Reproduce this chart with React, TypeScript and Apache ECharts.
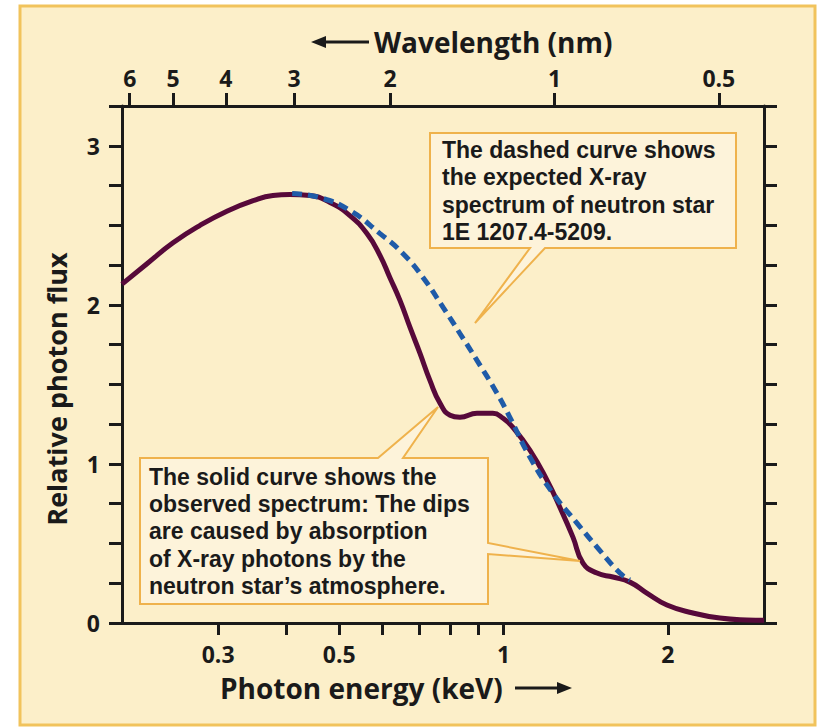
import React, { useEffect, useRef } from "react";
import * as echarts from "echarts";

// Photon energy (keV) / relative photon flux
const solidEnergy = [0.2, 0.2225, 0.248, 0.278, 0.312, 0.348, 0.378, 0.406, 0.442, 0.481, 0.523, 0.562, 0.594, 0.619, 0.646, 0.674, 0.703, 0.733, 0.765, 0.798, 0.832, 0.894, 0.956, 0.998, 1.04, 1.118, 1.201, 1.268, 1.34, 1.398, 1.483, 1.586, 1.704, 1.83, 1.992, 2.223, 2.49, 2.79, 3.0];
const solidFlux = [2.13, 2.26, 2.39, 2.5, 2.59, 2.655, 2.687, 2.693, 2.687, 2.643, 2.561, 2.448, 2.31, 2.172, 2.028, 1.858, 1.695, 1.525, 1.381, 1.306, 1.293, 1.318, 1.318, 1.287, 1.23, 1.086, 0.898, 0.728, 0.54, 0.377, 0.314, 0.289, 0.257, 0.188, 0.113, 0.063, 0.031, 0.019, 0.017];

const dashedEnergy = [0.41, 0.461, 0.523, 0.594, 0.654, 0.712, 0.775, 0.832, 0.894, 0.973, 1.027, 1.118, 1.231, 1.363, 1.483, 1.634, 1.704];
const dashedFlux = [2.7, 2.674, 2.593, 2.448, 2.323, 2.172, 1.984, 1.82, 1.651, 1.444, 1.293, 1.042, 0.816, 0.628, 0.477, 0.314, 0.27];

const energyMin = 0.2;
const energyMax = 3;
const energyTicks = [0.3, 0.4, 0.5, 0.6, 0.7, 0.8, 0.9, 1, 2];
const energyLabels = [0.3, 0.5, 1, 2];
const wavelengthTicks = [6, 5, 4, 3, 2, 1, 0.5];
const fluxLabels = [0, 1, 2, 3];
const fluxMax = 3.25;
const fluxStep = 0.25;

const HC = 1.23984; // keV * nm

const dashedNote = ["The dashed curve shows", "the expected X-ray", "spectrum of neutron star", "1E 1207.4-5209."];
const solidNote = ["The solid curve shows the", "observed spectrum: The dips", "are caused by absorption", "of X-ray photons by the", "neutron star\u2019s atmosphere."];

const FONT = '"Open Sans", "Noto Sans", sans-serif';
const NOTE_FONT = '"Liberation Sans", Arial, sans-serif';
const INK = "#1a1a1a";
const BG = "#fcefc9";
const BOX_FILL = "#fdf3da";
const BOX_LINE = "#efb24c";

const lg = (v: number) => Math.log10(v);

export default function App() {
  const ref = useRef<HTMLDivElement>(null);
  useEffect(() => {
    const chart = echarts.init(ref.current!, null, { renderer: "svg" });
    const axisLine = { show: true, onZero: false, lineStyle: { color: INK, width: 3 } };
    const tickStyle = { color: INK, width: 3 };
    const labelStyle = { color: INK, fontFamily: FONT, fontWeight: "bold" as const, fontSize: 23 };

    const noteLines = (lines: string[], x: number, y0: number, step: number) =>
      lines.map((t, i) => ({
        type: "text",
        z: 11,
        x,
        y: y0 + i * step,
        style: { text: t, font: `bold 23px ${NOTE_FONT}`, fill: INK, textVerticalAlign: "middle" },
      }));

    const option: any = {
      animation: false,
      backgroundColor: "transparent",
      grid: { left: 122, top: 106, width: 642, height: 517, containLabel: false },
      xAxis: [
        {
          type: "value",
          position: "bottom",
          min: lg(energyMin),
          max: lg(energyMax),
          axisLine,
          splitLine: { show: false },
          axisTick: { show: true, inside: false, length: 12, lineStyle: tickStyle, customValues: energyTicks.map(lg) },
          axisLabel: {
            ...labelStyle,
            margin: 19,
            customValues: energyLabels.map(lg),
            formatter: (v: number) => String(+Math.pow(10, v).toFixed(2)),
          },
        },
        {
          type: "value",
          position: "top",
          min: lg(energyMin),
          max: lg(energyMax),
          axisLine,
          splitLine: { show: false },
          axisTick: { show: true, inside: false, length: 13, lineStyle: tickStyle, customValues: wavelengthTicks.map((w) => lg(HC / w)) },
          axisLabel: {
            ...labelStyle,
            margin: 17,
            customValues: wavelengthTicks.map((w) => lg(HC / w)),
            formatter: (v: number) => String(+(HC / Math.pow(10, v)).toFixed(2)),
          },
        },
      ],
      yAxis: [
        {
          type: "value",
          position: "left",
          min: 0,
          max: fluxMax,
          interval: fluxStep,
          axisLine,
          splitLine: { show: false },
          axisTick: { show: true, inside: false, length: 13, lineStyle: tickStyle },
          axisLabel: { ...labelStyle, margin: 22, customValues: fluxLabels },
        },
        {
          type: "value",
          position: "right",
          min: 0,
          max: fluxMax,
          interval: fluxStep,
          axisLine,
          splitLine: { show: false },
          axisTick: { show: true, inside: false, length: 13, lineStyle: tickStyle },
          axisLabel: { show: false },
        },
      ],
      series: [
        {
          type: "line",
          name: "observed",
          xAxisIndex: 0,
          yAxisIndex: 0,
          data: solidEnergy.map((e, i) => [lg(e), solidFlux[i]]),
          showSymbol: false,
          smooth: 0.5,
          lineStyle: { color: "#57093a", width: 5 },
          z: 3,
        },
        {
          type: "line",
          name: "expected",
          xAxisIndex: 0,
          yAxisIndex: 0,
          data: dashedEnergy.map((e, i) => [lg(e), dashedFlux[i]]),
          showSymbol: false,
          smooth: 0.5,
          lineStyle: { color: "#1f5ba8", width: 5, type: [10, 6] },
          z: 4,
        },
      ],
      graphic: [
        {
          type: "rect",
          z: -10,
          shape: { x: 20, y: 6, width: 795, height: 719 },
          style: { fill: BG, stroke: "#f1c35c", lineWidth: 3 },
        },
        // callout boxes
        {
          type: "polygon",
          z: 10,
          shape: { points: [[430, 133], [736, 133], [736, 248], [545, 248], [475, 323], [530, 248], [430, 248]] },
          style: { fill: BOX_FILL, stroke: BOX_LINE, lineWidth: 2 },
        },
        ...noteLines(dashedNote, 442, 150, 27.4),
        {
          type: "polygon",
          z: 10,
          shape: { points: [[140, 458], [378, 458], [438, 407], [403, 458], [488, 458], [488, 543], [580, 561], [488, 554], [488, 604], [140, 604]] },
          style: { fill: BOX_FILL, stroke: BOX_LINE, lineWidth: 2 },
        },
        ...noteLines(solidNote, 149, 477, 27.2),
        // axis titles
        {
          type: "text",
          x: 374,
          y: 42,
          style: { text: "Wavelength (nm)", font: `bold 28px ${FONT}`, fill: INK, textVerticalAlign: "middle" },
        },
        { type: "line", shape: { x1: 320, y1: 42, x2: 369, y2: 42 }, style: { stroke: INK, lineWidth: 3 } },
        { type: "polygon", shape: { points: [[311, 42], [326, 36], [326, 48]] }, style: { fill: INK } },
        {
          type: "text",
          x: 220,
          y: 688,
          style: { text: "Photon energy (keV)", font: `bold 28px ${FONT}`, fill: INK, textVerticalAlign: "middle" },
        },
        { type: "line", shape: { x1: 515, y1: 688, x2: 563, y2: 688 }, style: { stroke: INK, lineWidth: 3 } },
        { type: "polygon", shape: { points: [[572, 688], [557, 682], [557, 694]] }, style: { fill: INK } },
        {
          type: "text",
          x: 56,
          y: 389,
          rotation: Math.PI / 2,
          style: { text: "Relative photon flux", font: `bold 27px ${FONT}`, fill: INK, textAlign: "center", textVerticalAlign: "middle" },
        },
      ],
    };
    chart.setOption(option);
    return () => chart.dispose();
  }, []);
  return (
    <div
      ref={ref}
      style={{ position: "fixed", left: 0, top: 0, width: 823, height: 728, background: "#ffffff" }}
    />
  );
}
